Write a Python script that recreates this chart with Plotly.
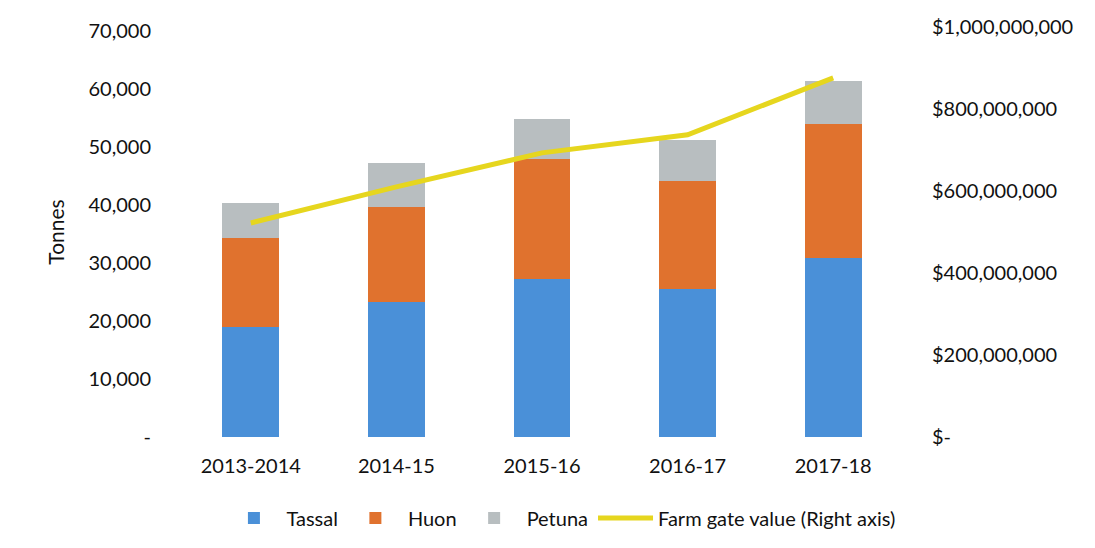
import plotly.graph_objects as go

years = ["2013-2014", "2014-15", "2015-16", "2016-17", "2017-18"]
tassal = [19000, 23200, 27300, 25600, 30900]
huon = [15400, 16400, 20600, 18500, 23000]
petuna = [5900, 7600, 6900, 7200, 7500]
farm_gate = [522e6, 610e6, 693e6, 737e6, 876e6]

left_ticks = [0, 10000, 20000, 30000, 40000, 50000, 60000, 70000]
left_labels = ["-", "10,000", "20,000", "30,000", "40,000", "50,000", "60,000", "70,000"]
right_ticks = [0, 200e6, 400e6, 600e6, 800e6, 1000e6]
right_labels = ["$-", "$200,000,000", "$400,000,000", "$600,000,000", "$800,000,000", "$1,000,000,000"]

FONT = "Lato, 'Open Sans', sans-serif"

fig = go.Figure()
fig.add_trace(go.Bar(x=years, y=tassal, name="Tassal", marker=dict(color="#4a90d8", line=dict(width=0))))
fig.add_trace(go.Bar(x=years, y=huon, name="Huon", marker=dict(color="#e0722e", line=dict(width=0))))
fig.add_trace(go.Bar(x=years, y=petuna, name="Petuna", marker=dict(color="#b8bec0", line=dict(width=0))))
fig.add_trace(go.Scatter(x=years, y=farm_gate, name="Farm gate value (Right axis)", mode="lines",
                         line=dict(color="#e6d61e", width=5), yaxis="y2"))

fig.update_layout(
    width=1095, height=548,
    barmode="stack", bargap=0.61,
    paper_bgcolor="white", plot_bgcolor="white",
    font=dict(family=FONT, size=20, color="#111111"),
    margin=dict(l=170, r=197, t=19, b=119, autoexpand=False),
    xaxis=dict(showgrid=False, showline=False, zeroline=False, ticks="outside", ticklen=11,
               tickcolor="rgba(0,0,0,0)", tickfont=dict(size=20)),
    yaxis=dict(range=[0, 70700], tickvals=left_ticks, ticktext=left_labels, showgrid=False,
               zeroline=False, showline=False, ticks="outside", ticklen=22, tickcolor="rgba(0,0,0,0)",
               title=dict(text="Tonnes", standoff=18, font=dict(size=21))),
    yaxis2=dict(range=[0, 1e9], tickvals=right_ticks, ticktext=right_labels, overlaying="y",
                side="right", showgrid=False, zeroline=False, showline=False, ticks="outside",
                ticklen=21, tickcolor="rgba(0,0,0,0)"),
    legend=dict(orientation="h", x=0.526, xanchor="center", y=-0.15, yanchor="top",
                font=dict(size=20), itemwidth=55, traceorder="normal"),
)

fig.write_html("out.html")
